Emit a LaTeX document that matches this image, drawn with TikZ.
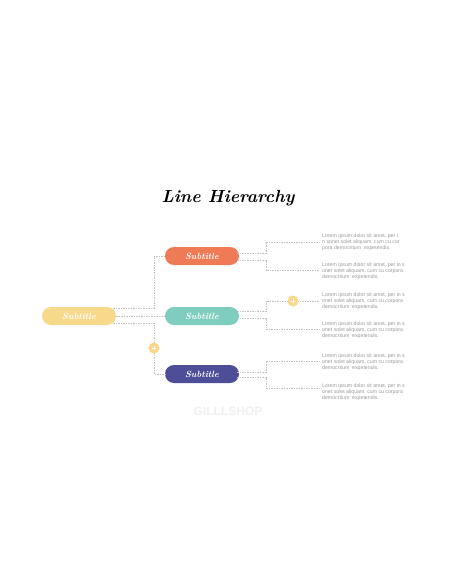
\documentclass[tikz,border=0pt]{standalone}
\usepackage{fontspec}
\setmainfont{Liberation Sans}
\newfontfamily\titlefont{Latin Modern Roman}
\usetikzlibrary{calc}
\definecolor{cyellow}{HTML}{F8D98C}
\definecolor{corange}{HTML}{EE7B55}
\definecolor{cteal}{HTML}{7ECDBE}
\definecolor{cpurple}{HTML}{4E4E98}
\definecolor{cline}{HTML}{C2C2C2}
\definecolor{ctext}{HTML}{9A9A9A}
\tikzset{
  pill/.style={rounded corners=9pt, minimum width=74pt, minimum height=18pt, inner sep=0pt,
    text=white, font=\titlefont\itshape\bfseries\fontsize{9}{9}\selectfont},
  conn/.style={draw=cline, line width=0.5pt, dash pattern=on 1.5pt off 1pt},
  lorem/.style={anchor=west, align=left, inner sep=0pt, text=ctext,
    font=\fontsize{5.2}{6}\selectfont},
  plus/.style={circle, fill=cyellow, minimum size=11pt, inner sep=0pt,
    path picture={\draw[white, line width=1pt] ($(path picture bounding box.center)+(-2.2,0)$) -- ($(path picture bounding box.center)+(2.2,0)$);
                  \draw[white, line width=1pt] ($(path picture bounding box.center)+(0,-2.2)$) -- ($(path picture bounding box.center)+(0,2.2)$);}}
}
\begin{document}
\begin{tikzpicture}[x=1pt,y=-1pt]
\useasboundingbox[fill=white] (0,0) rectangle (456,586);
\node[font=\titlefont\itshape\bfseries\fontsize{17.5}{17.5}\selectfont] (title) at (228,198) {Line Hierarchy};
\node[pill, fill=cyellow] (root) at (79,316) {Subtitle};
\node[pill, fill=corange] (a) at (202,256) {Subtitle};
\node[pill, fill=cteal] (b) at (202,316) {Subtitle};
\node[pill, fill=cpurple] (c) at (202,374) {Subtitle};
% left connectors
\coordinate (r1) at ($(root.east)+(-3,-8)$);
\coordinate (r3) at ($(root.east)+(-3,7)$);
\draw[conn] (r1) -| (154,256) -- (a.west);
\draw[conn] (root.east) -- (b.west);
\draw[conn] (r3) -| (154,374) -- (c.west);
\node[plus] (p1) at (154,348) {};
% texts
\begin{scope}
\clip (318,225) rectangle (406,405);
\node[lorem] (t1) at (322,242) {Lorem ipsum dolor sit amet, per i\\n sonet solet aliquam, cum cu cor\\pora democritum\ \ expetendis.};
\node[lorem] (t2) at (322,271) {Lorem ipsum dolor sit amet, per in s\\onet solet aliquam, cum cu corpora\\democritum\ \ expetendis.};
\node[lorem] (t3) at (322,301) {Lorem ipsum dolor sit amet, per in s\\onet solet aliquam, cum cu corpora\\democritum\ \ expetendis.};
\node[lorem] (t4) at (322,330) {Lorem ipsum dolor sit amet, per in s\\onet solet aliquam, cum cu corpora\\democritum\ \ expetendis.};
\node[lorem] (t5) at (322,362) {Lorem ipsum dolor sit amet, per in s\\onet solet aliquam, cum cu corpora\\democritum\ \ expetendis.};
\node[lorem] (t6) at (322,392) {Lorem ipsum dolor sit amet, per in s\\onet solet aliquam, cum cu corpora\\democritum\ \ expetendis.};
\end{scope}
% right connectors
\draw[conn] ($(a.east)+(-2,-3)$) -| (266,242) -- ($(t1.west)+(-3,0)$);
\draw[conn] ($(a.east)+(-2,4)$) -| (266,270) -- ($(t2.west)+(-3,-1)$);
\draw[conn] ($(b.east)+(-2,-5)$) -| (266,301) -- ($(t3.west)+(-3,0)$);
\draw[conn] ($(b.east)+(-2,2)$) -| (266,329) -- ($(t4.west)+(-3,-1)$);
\draw[conn] ($(c.east)+(-2,-2)$) -| (266,361) -- ($(t5.west)+(-3,-1)$);
\draw[conn] ($(c.east)+(-2,3)$) -| (266,388) -- ($(t6.west)+(-3,-4)$);
\node[plus] (p2) at (293,301) {};
% watermark
\node[text=black!6, font=\bfseries\fontsize{12}{12}\selectfont] (wm) at (228,411) {GILLLSHOP};
\end{tikzpicture}
\end{document}
